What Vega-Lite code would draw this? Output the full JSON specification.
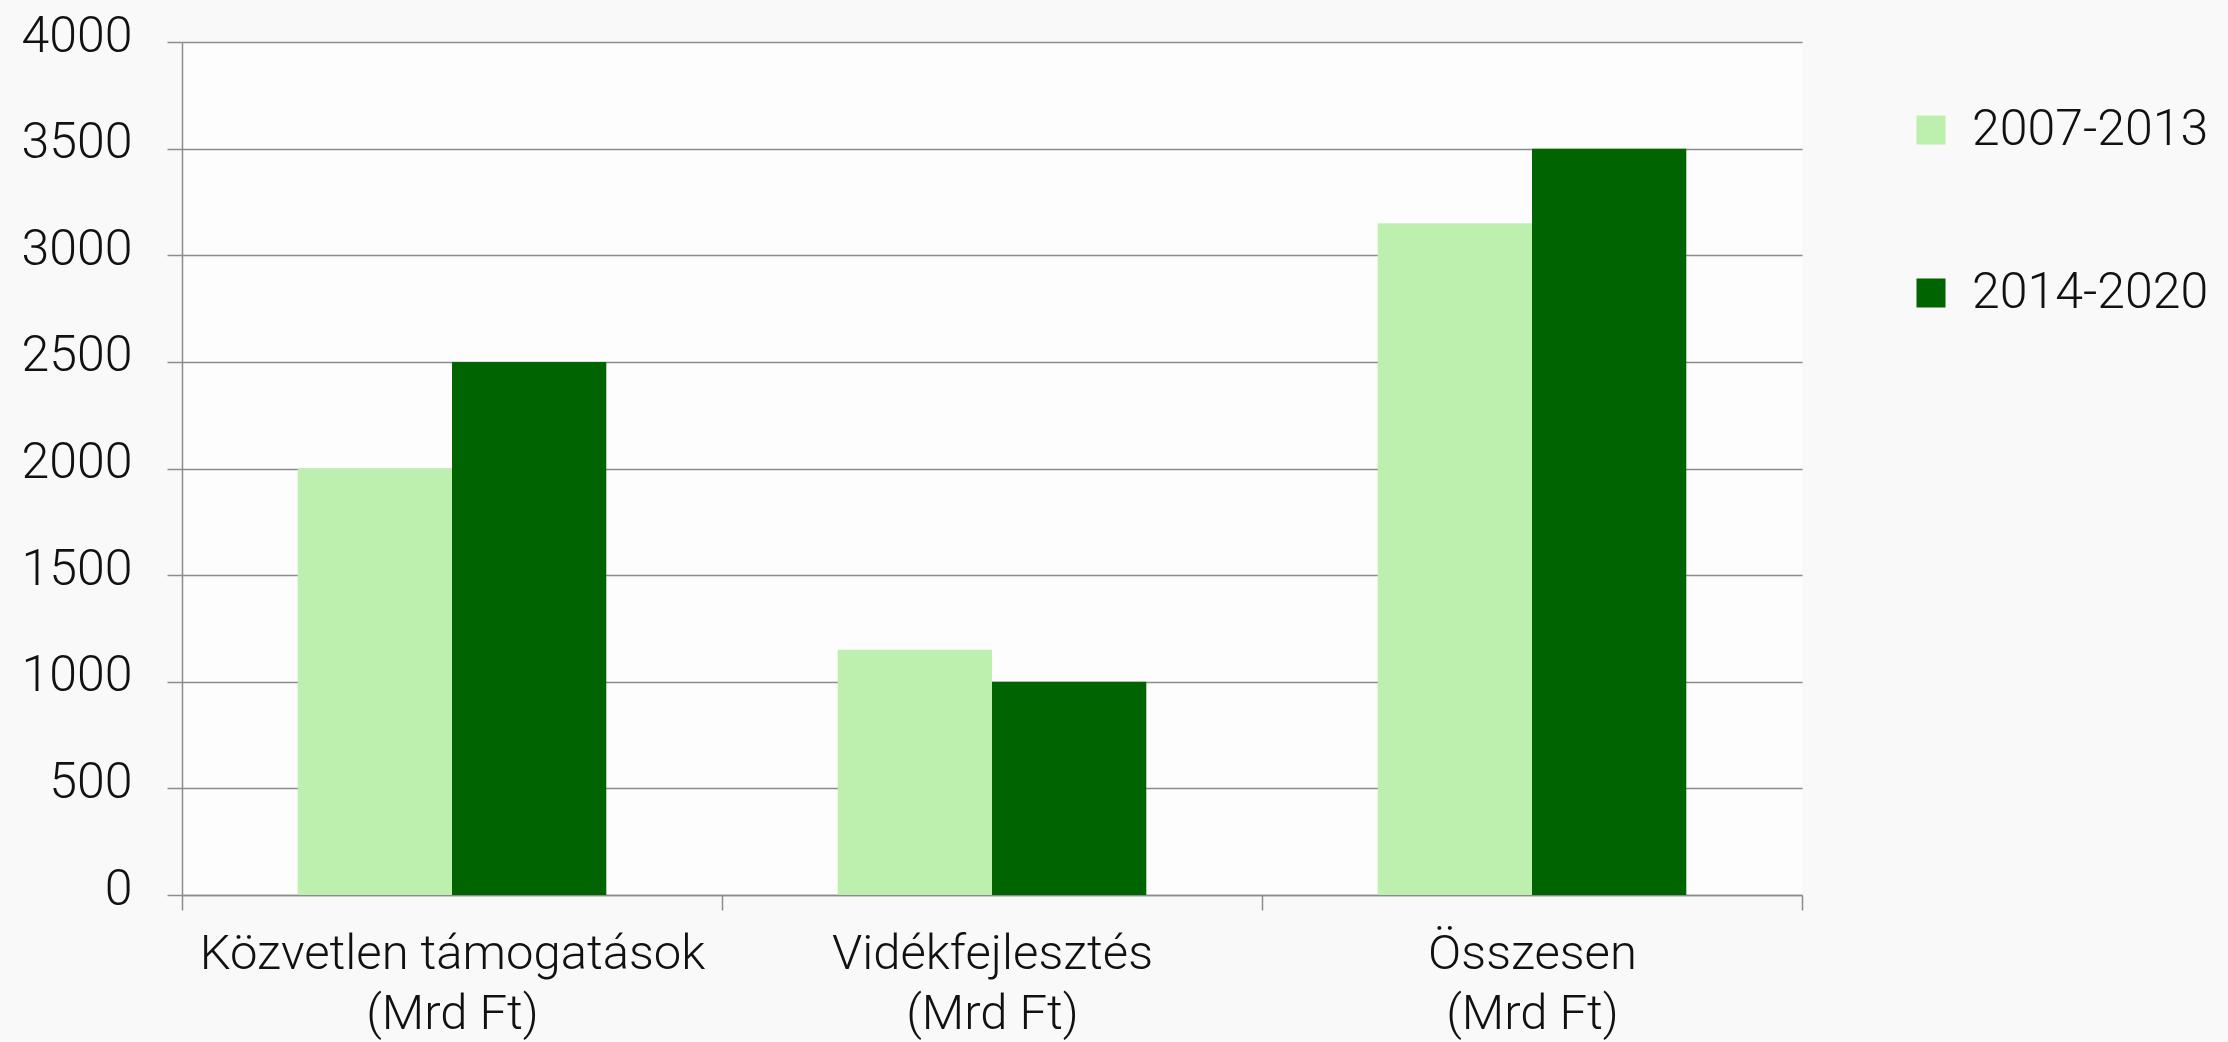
{
  "$schema": "https://vega.github.io/schema/vega-lite/v6.json",
  "width": 1620,
  "height": 853,
  "autosize": {"type": "none"},
  "padding": {"left": 182, "top": 42, "right": 426, "bottom": 147},
  "background": "#f9f9f9",
  "config": {
    "view": {"stroke": null, "fill": "#fdfdfd"},
    "font": "Roboto"
  },
  "data": {
    "values": [
      {"kategoria": "Közvetlen támogatások|(Mrd Ft)", "idoszak": "2007-2013", "ertek": 2000},
      {"kategoria": "Közvetlen támogatások|(Mrd Ft)", "idoszak": "2014-2020", "ertek": 2500},
      {"kategoria": "Vidékfejlesztés|(Mrd Ft)", "idoszak": "2007-2013", "ertek": 1150},
      {"kategoria": "Vidékfejlesztés|(Mrd Ft)", "idoszak": "2014-2020", "ertek": 1000},
      {"kategoria": "Összesen|(Mrd Ft)", "idoszak": "2007-2013", "ertek": 3150},
      {"kategoria": "Összesen|(Mrd Ft)", "idoszak": "2014-2020", "ertek": 3500}
    ]
  },
  "mark": {"type": "bar"},
  "encoding": {
    "x": {
      "field": "kategoria",
      "type": "nominal",
      "sort": null,
      "scale": {"paddingInner": 0, "paddingOuter": 0},
      "axis": {
        "title": null,
        "labelAngle": 0,
        "labelExpr": "split(datum.label, '|')",
        "labelFont": "Roboto",
        "labelFontWeight": 300,
        "labelFontSize": 49,
        "labelColor": "#111111",
        "labelLineHeight": 60,
        "labelPadding": 19,
        "labelLimit": 0,
        "tickBand": "extent",
        "tickSize": 15,
        "tickColor": "#8c8c8c",
        "tickWidth": 1.5,
        "domainColor": "#8c8c8c",
        "domainWidth": 1.5,
        "grid": false
      }
    },
    "xOffset": {
      "field": "idoszak",
      "type": "nominal",
      "scale": {"paddingInner": 0, "paddingOuter": 0.75}
    },
    "y": {
      "field": "ertek",
      "type": "quantitative",
      "scale": {"domain": [0, 4000], "nice": false},
      "axis": {
        "title": null,
        "values": [0, 500, 1000, 1500, 2000, 2500, 3000, 3500, 4000],
        "format": "d",
        "labelFont": "Roboto",
        "labelFontWeight": 300,
        "labelFontSize": 50,
        "labelColor": "#111111",
        "labelPadding": 35,
        "labelOffset": -6,
        "tickSize": 15,
        "tickColor": "#8c8c8c",
        "tickWidth": 1.5,
        "domainColor": "#8c8c8c",
        "domainWidth": 1.5,
        "gridColor": "#8c8c8c",
        "gridWidth": 1.5,
        "gridOpacity": 1
      }
    },
    "color": {
      "field": "idoszak",
      "type": "nominal",
      "scale": {"domain": ["2007-2013", "2014-2020"], "range": ["#bdf0af", "#006400"]},
      "legend": {
        "title": null,
        "orient": "none",
        "legendX": 1724,
        "legendY": 63,
        "symbolType": "square",
        "symbolSize": 841,
        "symbolStrokeWidth": 0,
        "symbolOpacity": 1,
        "labelFont": "Roboto",
        "labelFontWeight": 300,
        "labelFontSize": 50,
        "labelColor": "#111111",
        "labelOffset": 16,
        "labelLimit": 0,
        "rowPadding": 113
      }
    }
  }
}
